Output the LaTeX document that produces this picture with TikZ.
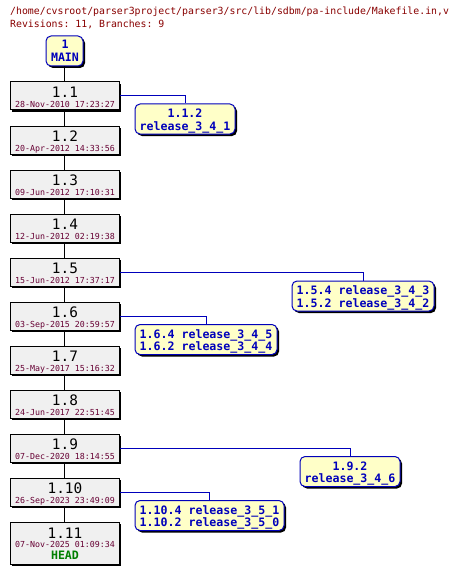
\documentclass[tikz,border=0pt]{standalone}
\usepackage{fontspec}
\setmonofont{DejaVu Sans Mono}
\usetikzlibrary{shadows}
\definecolor{hdr}{HTML}{880000}
\definecolor{datec}{HTML}{660033}
\definecolor{brtext}{HTML}{0000BB}
\definecolor{brfill}{HTML}{FFFFC8}
\definecolor{revfill}{HTML}{F0F0F0}
\definecolor{headc}{HTML}{008000}
\begin{document}
\begin{tikzpicture}[x=1pt,y=-1pt,
  shad/.style={drop shadow={shadow xshift=2pt,shadow yshift=-2pt,opacity=1,fill=black}},
  revbox/.style={draw=black,line width=1pt,fill=revfill,minimum width=109pt,minimum height=28pt,inner sep=0pt,shad},
  brbox/.style={draw=brtext,line width=1pt,fill=brfill,rounded corners=5pt,minimum height=30pt,inner sep=0pt,shad},
  numtxt/.style={anchor=base,inner sep=0pt,font=\ttfamily\fontsize{14.4}{14.4}\selectfont},
  datetxt/.style={anchor=base,inner sep=0pt,text=datec,font=\ttfamily\fontsize{8.3}{8.3}\selectfont},
  brtxt/.style={anchor=base,inner sep=0pt,text=brtext,font=\ttfamily\bfseries\fontsize{11.6}{11.6}\selectfont},
  hdrtxt/.style={anchor=base west,inner sep=0pt,text=hdr,font=\ttfamily\fontsize{9.85}{9.85}\selectfont},
  trunk/.style={draw=black,line width=1pt},
  brline/.style={draw=brtext,line width=1pt}
]
\useasboundingbox (0,0) rectangle (464,575);
% header
\node[hdrtxt] (h1) at (10,15) {/home/cvsroot/parser3project/parser3/src/lib/sdbm/pa-include/Makefile.in,v};
\node[hdrtxt] (h2) at (10,28) {Revisions: 11, Branches: 9};
% MAIN
\node[brbox,minimum width=37pt] (m) at (64.5,51) {};
\node[brtxt] (mt1) at (65,49) {1};
\node[brtxt] (mt2) at (65,62) {MAIN};
% revisions
\newcommand{\revnode}[4]{%
  \node[revbox] (#1) at (64.5,#2) {};
  \node[numtxt] (#1n) at (65,#2+1.5) {#3};
  \node[datetxt] (#1d) at (65,#2+11) {#4};
}
\revnode{r1}{96}{1.1}{28-Nov-2010 17:23:27}
\revnode{r2}{140}{1.2}{20-Apr-2012 14:33:56}
\revnode{r3}{184}{1.3}{09-Jun-2012 17:10:31}
\revnode{r4}{228}{1.4}{12-Jun-2012 02:19:38}
\revnode{r5}{272}{1.5}{15-Jun-2012 17:37:17}
\revnode{r6}{316}{1.6}{03-Sep-2015 20:59:57}
\revnode{r7}{360}{1.7}{25-May-2017 15:16:32}
\revnode{r8}{404}{1.8}{24-Jun-2017 22:51:45}
\revnode{r9}{448}{1.9}{07-Dec-2020 18:14:55}
\revnode{r10}{492}{1.10}{26-Sep-2023 23:49:09}
\node[revbox,minimum height=42pt] (r11) at (64.5,543) {};
\node[numtxt] (r11n) at (65,538) {1.11};
\node[datetxt] (r11d) at (65,547) {07-Nov-2025 01:09:34};
\node[brtxt,text=headc] (r11h) at (65,559) {HEAD};
% trunk
\draw[trunk] (m.south) -- (r1.north);
\foreach \a/\b in {r1/r2,r2/r3,r3/r4,r4/r5,r5/r6,r6/r7,r7/r8,r8/r9,r9/r10,r10/r11}
  \draw[trunk] (\a.south) -- (\b.north);
% branches
\newcommand{\brnode}[6]{%
  \node[brbox,minimum width=#4pt] (#1) at (#2,#3) {};
  \node[brtxt] (#1a) at (#2,#3-1.5) {#5};
  \node[brtxt] (#1b) at (#2,#3+11) {#6};
}
\brnode{b1}{185}{119}{100}{1.1.2}{release\_3\_4\_1}
\brnode{b5}{363}{296}{142}{1.5.4 release\_3\_4\_3}{1.5.2 release\_3\_4\_2}
\brnode{b6}{206}{339.5}{142}{1.6.4 release\_3\_4\_5}{1.6.2 release\_3\_4\_4}
\brnode{b9}{350}{471.5}{100}{1.9.2}{release\_3\_4\_6}
\brnode{b10}{209.5}{515.5}{149}{1.10.4 release\_3\_5\_1}{1.10.2 release\_3\_5\_0}
\draw[brline] (r1.east) -| (b1.north);
\draw[brline] (r5.east) -| (b5.north);
\draw[brline] (r6.east) -| (b6.north);
\draw[brline] (r9.east) -| (b9.north);
\draw[brline] (r10.east) -| (b10.north);
\end{tikzpicture}
\end{document}
